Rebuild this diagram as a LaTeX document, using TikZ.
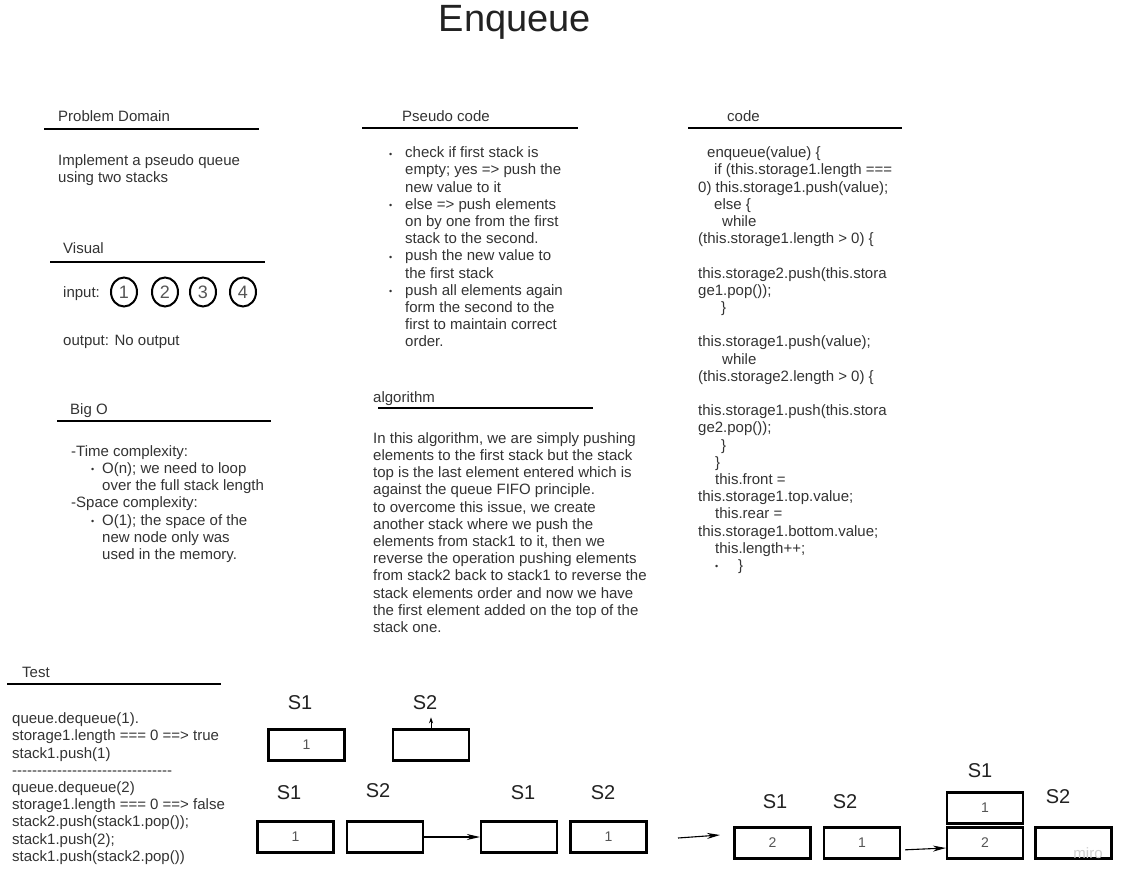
\documentclass[tikz,border=0pt]{standalone}
\usepackage{fontspec}
\setmainfont{Liberation Sans}
\usetikzlibrary{positioning,arrows.meta,shapes.geometric}
\definecolor{ink}{HTML}{333333}
\definecolor{dark}{HTML}{222222}
\definecolor{digit}{HTML}{555555}
\definecolor{wmark}{HTML}{CFCFCF}
\newcommand\bodyfont{\fontsize{15}{17.2}\selectfont}
\newcommand\bul[1]{\makebox[#1][l]{\raisebox{0.6pt}{\fontsize{9}{9}\selectfont\textbullet}}}

\begin{document}
\begin{tikzpicture}[x=1pt,y=-1pt,
  head/.style={anchor=base west,inner sep=0pt,font=\bodyfont,text=ink},
  para/.style={anchor=north west,inner sep=0pt,align=left,font=\bodyfont,text=ink},
  rule/.style={line width=1.4pt,draw=black},
  ball/.style={ellipse,draw=black,line width=2pt,minimum width=26,minimum height=29,inner sep=0pt,font=\fontsize{18}{18}\selectfont,text=digit},
  cell/.style={draw=black,line width=2.2pt,minimum width=76,minimum height=31,inner sep=0pt,font=\fontsize{14}{14}\selectfont,text=digit},
  slab/.style={inner sep=0pt,font=\fontsize{20}{20}\selectfont,text=dark},
  tip/.style={-{Stealth[length=13pt,width=6pt]},line width=1.1pt}]
\fill[white] (0,0) rectangle (1129,885);
\useasboundingbox (0,0) rectangle (1129,885);
\node[anchor=base,inner sep=0pt,font=\fontsize{38}{40}\selectfont,text=dark] (title) at (515,32) {Enqueue};

\node[head] (hpd) at (58,122) {Problem Domain};
\draw[rule] (44,129) -- (259,129);
\node[para] (pd) at (58,153.5) {\strut Implement a pseudo queue\\using two stacks};

\node[head] (hvis) at (63,254) {Visual};
\draw[rule] (50,262) -- (265,262);
\node[head] (inp) at (63,297) {input:};
\foreach \n/\x in {1/124,2/165,3/203,4/243}
  \node[ball] (ball\n) at (\x,292) {\n};
\node[head] (outp) at (63,345) {output: No output};

\node[head] (hbig) at (70,414) {Big O};
\draw[rule] (57,421) -- (271,421);
\node[para] (big) at (71,444) {\strut -Time complexity:\\
\hspace*{20pt}\bul{11pt}O(n); we need to loop\\
\hspace*{31pt}over the full stack length\\
-Space complexity:\\
\hspace*{20pt}\bul{11pt}O(1); the space of the\\
\hspace*{31pt}new node only was\\
\hspace*{31pt}used in the memory.};

\node[head] (hps) at (402,122) {Pseudo code};
\draw[rule] (362,128) -- (578,128);
\node[para] (ps) at (389,145.5) {\strut\bul{16pt}check if first stack is\\
\hspace*{16pt}empty; yes => push the\\
\hspace*{16pt}new value to it\\
\bul{16pt}else => push elements\\
\hspace*{16pt}on by one from the first\\
\hspace*{16pt}stack to the second.\\
\bul{16pt}push the new value to\\
\hspace*{16pt}the first stack\\
\bul{16pt}push all elements again\\
\hspace*{16pt}form the second to the\\
\hspace*{16pt}first to maintain correct\\
\hspace*{16pt}order.};

\node[head] (halg) at (373,402) {algorithm};
\draw[rule] (378,408) -- (593,408);
\node[para] (alg) at (373,431) {\strut In this algorithm, we are simply pushing\\
elements to the first stack but the stack\\
top is the last element entered which is\\
against the queue FIFO principle.\\
to overcome this issue, we create\\
another stack where we push the\\
elements from stack1 to it, then we\\
reverse the operation pushing elements\\
from stack2 back to stack1 to reverse the\\
stack elements order and now we have\\
the first element added on the top of the\\
stack one.};

\node[head] (hcode) at (727,122) {code};
\draw[rule] (688,128) -- (902,128);
\node[para] (code) at (698,145.5) {\strut\hspace*{9pt}enqueue(value) \{\\
\hspace*{16pt}if (this.storage1.length ===\\
0) this.storage1.push(value);\\
\hspace*{16pt}else \{\\
\hspace*{24pt}while\\
(this.storage1.length > 0) \{\\
\mbox{}\\
this.storage2.push(this.stora\\
ge1.pop());\\
\hspace*{23pt}\}\\
\mbox{}\\
this.storage1.push(value);\\
\hspace*{24pt}while\\
(this.storage2.length > 0) \{\\
\mbox{}\\
this.storage1.push(this.stora\\
ge2.pop());\\
\hspace*{23pt}\}\\
\hspace*{17pt}\}\\
\hspace*{17pt}this.front =\\
this.storage1.top.value;\\
\hspace*{17pt}this.rear =\\
this.storage1.bottom.value;\\
\hspace*{17pt}this.length++;\\
\hspace*{17pt}\bul{23pt}\}};

\node[head] (htest) at (22,677) {Test};
\draw[rule] (7,684) -- (221,684);
\node[para] (test) at (12,711.5) {\strut queue.dequeue(1).\\
storage1.length === 0 ==> true\\
stack1.push(1)\\
-{}-{}-{}-{}-{}-{}-{}-{}-{}-{}-{}-{}-{}-{}-{}-{}-{}-{}-{}-{}-{}-{}-{}-{}-{}-{}-{}-{}-{}-{}-{}-{}\\
queue.dequeue(2)\\
storage1.length === 0 ==> false\\
stack2.push(stack1.pop());\\
stack1.push(2);\\
stack1.push(stack2.pop())};

\node[cell] (a1) at (306.5,745) {1};
\node[cell] (a2) at (431,745) {};
\node[slab] (la1) at (300,703) {S1};
\node[slab] (la2) at (425,703) {S2};
\draw[-{Stealth[length=6pt,width=4pt]},line width=0.9pt,shorten >=7pt] (a2.north) -- (a2.north |- la2.south);

\node[cell] (b1) at (295.5,837) {1};
\node[cell] (b2) at (385,837) {};
\node[slab] (lb1) at (289,793) {S1};
\node[slab] (lb2) at (378,791) {S2};
\node[cell] (b3) at (519,837) {};
\node[cell] (b4) at (608.5,837) {1};
\node[slab] (lb3) at (523,793) {S1};
\node[slab] (lb4) at (603,793) {S2};
\draw[tip] (b2.east) -- (b3.west);

\coordinate (f1) at (678,838);
\coordinate (f2) at (720,835);
\draw[tip] (f1) -- (f2);

\node[cell] (d1) at (772.5,843) {2};
\node[cell] (d2) at (862,843) {1};
\node[slab] (ld1) at (775,802) {S1};
\node[slab] (ld2) at (845,802) {S2};

\node[cell] (e1) at (985,808) {1};
\node[cell] (e2) at (985,843) {2};
\node[cell] (e3) at (1073.5,843) {};
\node[slab] (le1) at (980,771) {S1};
\node[slab] (le2) at (1058,797) {S2};
\draw[tip,shorten <=4pt] ([yshift=-7pt]d2.east) -- ([yshift=-5pt]e2.west);

\node[inner sep=0pt,font=\fontsize{15}{15}\selectfont,text=wmark] (miro) at (1088,853) {miro};
\end{tikzpicture}
\end{document}
